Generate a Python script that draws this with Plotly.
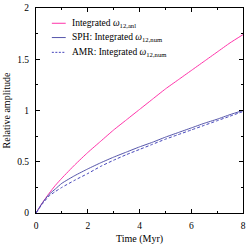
import plotly.graph_objects as go

time = [0, 0.25, 0.5, 0.75, 1, 1.5, 2, 2.5, 3, 3.5, 4, 4.5, 5, 5.5, 6, 6.5, 7, 7.5, 8]
anl = [0, 0.1, 0.19, 0.27, 0.34, 0.47, 0.59, 0.70, 0.81, 0.91, 1.01, 1.11, 1.21, 1.30, 1.39, 1.48, 1.57, 1.66, 1.74]
sph = [0, 0.1, 0.18, 0.235, 0.29, 0.365, 0.43, 0.49, 0.545, 0.595, 0.645, 0.69, 0.74, 0.785, 0.83, 0.875, 0.915, 0.96, 1.0]
amr = [0, 0.09, 0.165, 0.21, 0.25, 0.32, 0.385, 0.455, 0.515, 0.57, 0.62, 0.67, 0.72, 0.765, 0.81, 0.855, 0.9, 0.945, 0.99]

x_ticks = [0, 2, 4, 6, 8]
y_ticks = [0, 0.5, 1, 1.5, 2]
y_tick_labels = ["0", "0.5", "1", "1.5", "2"]

names = ["Integrated <i>ω</i><sub>12,anl</sub>",
         "SPH: Integrated <i>ω</i><sub>12,num</sub>",
         "AMR: Integrated <i>ω</i><sub>12,num</sub>"]
colors = ["#ff33aa", "#5555aa", "#4444bb"]
dashes = ["solid", "solid", "3px,2px"]

FONT = "Liberation Serif"

fig = go.Figure()
for vals, nm, c, d in zip([anl, sph, amr], names, colors, dashes):
    fig.add_trace(go.Scatter(x=time, y=vals, mode="lines",
                             line=dict(color=c, width=1, dash=d, shape="spline", smoothing=0.5),
                             name=nm, showlegend=False, hoverinfo="skip"))

# custom legend (sample lines + labels)
leg_y = [0.9255, 0.8558, 0.7837]
for yy, nm, c, d in zip(leg_y, names, colors, dashes):
    fig.add_shape(type="line", xref="paper", yref="paper", x0=0.0766, x1=0.1435, y0=yy, y1=yy,
                  line=dict(color=c, width=1, dash="2px,1.5px" if d != "solid" else "solid"))
    fig.add_annotation(xref="paper", yref="paper", x=0.163, y=yy, xanchor="left", yanchor="middle",
                       text=nm, showarrow=False, font=dict(family=FONT, size=9.5, color="black"))

axis_common = dict(showline=True, linecolor="black", linewidth=1, mirror="ticks", ticks="inside",
                   ticklen=4, tickcolor="black", showgrid=False, zeroline=False,
                   tickfont=dict(family=FONT, size=9.5, color="black"))

fig.update_layout(
    width=249, height=246,
    margin=dict(l=36, r=3, t=5, b=33),
    paper_bgcolor="white", plot_bgcolor="white",
    font=dict(family=FONT, size=10, color="black"),
    hovermode=False,
    xaxis=dict(range=[0, 8], tickvals=x_ticks, ticktext=[str(v) for v in x_ticks],
               minor=dict(ticks="inside", ticklen=2, dtick=1, tickcolor="black"),
               ticklabelstandoff=4,
               title=dict(text="Time (Myr)", font=dict(family=FONT, size=10), standoff=4), **axis_common),
    yaxis=dict(range=[0, 2], tickvals=y_ticks, ticktext=y_tick_labels,
               minor=dict(ticks="inside", ticklen=2, dtick=0.25, tickcolor="black"),
               ticklabelstandoff=4,
               title=dict(text="Relative amplitude", font=dict(family=FONT, size=10), standoff=4), **axis_common),
    showlegend=False,
)

fig.write_html("out.html", config={"displayModeBar": False, "staticPlot": True},
               post_script="document.body.style.margin='0';document.body.style.overflow='hidden';")
